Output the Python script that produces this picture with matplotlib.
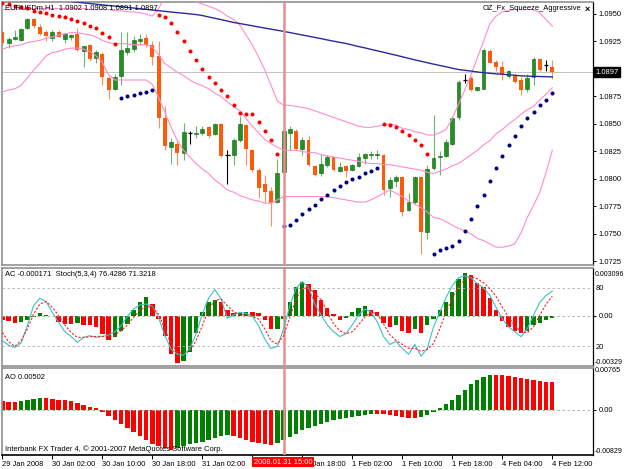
import matplotlib
matplotlib.use("Agg")
import matplotlib.pyplot as plt
import matplotlib.transforms as mtransforms
import numpy as np

plt.rcParams['font.family'] = ['Liberation Sans', 'DejaVu Sans']

# ---- data (EURUSDm, H1, 29 Jan 18:00 .. 4 Feb 12:00) ----
opens = [1.0934, 1.0924, 1.0927, 1.0926, 1.0937, 1.0945, 1.0938, 1.0934, 1.0928, 1.0934,
         1.0927, 1.0929, 1.0932, 1.0916, 1.0922, 1.0910, 1.0914, 1.0892, 1.0882, 1.0894,
         1.0915, 1.0918, 1.0925, 1.0928, 1.0922, 1.0912, 1.0855, 1.0829, 1.0832, 1.0824,
         1.0842, 1.0841, 1.0842, 1.0847, 1.0841, 1.0850, 1.0822, 1.0822, 1.0835, 1.0849,
         1.0826, 1.0808, 1.0795, 1.0789, 1.0779, 1.0806, 1.0842, 1.0844, 1.0827, 1.0835,
         1.0812, 1.0805, 1.0813, 1.0820, 1.0807, 1.0812, 1.0808, 1.0812, 1.0819, 1.0822,
         1.0822, 1.0822, 1.0792, 1.0798, 1.0802, 1.0772, 1.0779, 1.0802, 1.0752, 1.0810,
         1.0820, 1.0821, 1.0832, 1.0856, 1.0890, 1.0892, 1.0881, 1.0882, 1.0916, 1.0906,
         1.0902, 1.0894, 1.0894, 1.0890, 1.0882, 1.0893, 1.0909, 1.0904, 1.0902]
highs = [1.0935, 1.0929, 1.0935, 1.0937, 1.0946, 1.0946, 1.0941, 1.0935, 1.0935, 1.0935,
         1.0933, 1.0932, 1.0937, 1.0921, 1.0923, 1.0917, 1.0915, 1.0894, 1.0895, 1.0934,
         1.0934, 1.0930, 1.0932, 1.0932, 1.0925, 1.0925, 1.0866, 1.0837, 1.0835, 1.0851,
         1.0844, 1.0848, 1.0848, 1.0848, 1.0851, 1.0851, 1.0826, 1.0837, 1.0857, 1.0850,
         1.0827, 1.0810, 1.0804, 1.0793, 1.0818, 1.0846, 1.0848, 1.0845, 1.0838, 1.0839,
         1.0813, 1.0823, 1.0822, 1.0820, 1.0815, 1.0813, 1.0814, 1.0824, 1.0824, 1.0825,
         1.0826, 1.0823, 1.0802, 1.0804, 1.0803, 1.0787, 1.0803, 1.0803, 1.0813, 1.0858,
         1.0825, 1.0836, 1.0857, 1.0890, 1.0895, 1.0894, 1.0884, 1.0919, 1.0918, 1.0908,
         1.0907, 1.0899, 1.0895, 1.0893, 1.0895, 1.0911, 1.0910, 1.0908, 1.0908]
lows = [1.0922, 1.0919, 1.0926, 1.0925, 1.0936, 1.0937, 1.0931, 1.0925, 1.0925, 1.0929,
        1.0924, 1.0926, 1.0916, 1.0902, 1.0907, 1.0905, 1.0885, 1.0873, 1.0881, 1.0885,
        1.0913, 1.0915, 1.0922, 1.0920, 1.0904, 1.0846, 1.0826, 1.0814, 1.0813, 1.0817,
        1.0832, 1.0837, 1.0840, 1.0837, 1.0840, 1.0820, 1.0795, 1.0813, 1.0834, 1.0813,
        1.0806, 1.0783, 1.0779, 1.0757, 1.0778, 1.0805, 1.0826, 1.0826, 1.0822, 1.0812,
        1.0803, 1.0803, 1.0811, 1.0807, 1.0806, 1.0802, 1.0807, 1.0811, 1.0814, 1.0818,
        1.0818, 1.0785, 1.0784, 1.0793, 1.0766, 1.0771, 1.0777, 1.0732, 1.0745, 1.0808,
        1.0804, 1.0820, 1.0831, 1.0854, 1.0887, 1.0880, 1.0880, 1.0882, 1.0905, 1.0898,
        1.0890, 1.0892, 1.0887, 1.0876, 1.0879, 1.0885, 1.0898, 1.0898, 1.0891]
closes = [1.0924, 1.0927, 1.0929, 1.0936, 1.0945, 1.0939, 1.0932, 1.0930, 1.0934, 1.0929,
          1.0932, 1.0931, 1.0917, 1.0921, 1.0909, 1.0915, 1.0893, 1.0881, 1.0893, 1.0917,
          1.0919, 1.0926, 1.0927, 1.0922, 1.0911, 1.0855, 1.0830, 1.0834, 1.0824, 1.0843,
          1.0842, 1.0842, 1.0845, 1.0839, 1.0850, 1.0821, 1.0822, 1.0835, 1.0850, 1.0827,
          1.0808, 1.0792, 1.0788, 1.0778, 1.0805, 1.0844, 1.0845, 1.0827, 1.0835, 1.0813,
          1.0804, 1.0814, 1.0820, 1.0808, 1.0811, 1.0807, 1.0813, 1.0820, 1.0823, 1.0823,
          1.0823, 1.0790, 1.0799, 1.0802, 1.0770, 1.0779, 1.0802, 1.0752, 1.0809, 1.0819,
          1.0821, 1.0834, 1.0855, 1.0888, 1.0890, 1.0881, 1.0884, 1.0917, 1.0905, 1.0902,
          1.0895, 1.0898, 1.0888, 1.0881, 1.0892, 1.0909, 1.0899, 1.0904, 1.0897]

ma200 = [1.09678, 1.09672, 1.09666, 1.09660, 1.09654, 1.09648, 1.09642, 1.09637, 1.09631, 1.09625,
         1.09619, 1.09613, 1.09607, 1.09601, 1.09595, 1.09589, 1.09583, 1.09577, 1.09572, 1.09566,
         1.09560, 1.09554, 1.09548, 1.09542, 1.09536, 1.09530, 1.09524, 1.09518, 1.09512, 1.09507,
         1.09501, 1.09495, 1.09486, 1.09473, 1.09461, 1.09449, 1.09436, 1.09423, 1.09413, 1.09403,
         1.09393, 1.09382, 1.09372, 1.09362, 1.09352, 1.09342, 1.09331, 1.09320, 1.09309, 1.09298,
         1.09287, 1.09276, 1.09264, 1.09253, 1.09242, 1.09232, 1.09218, 1.09204, 1.09192, 1.09178,
         1.09165, 1.09152, 1.09138, 1.09125, 1.09111, 1.09097, 1.09083, 1.09070, 1.09057, 1.09044,
         1.09032, 1.09020, 1.09007, 1.08995, 1.08988, 1.08981, 1.08973, 1.08966, 1.08961, 1.08956,
         1.08952, 1.08947, 1.08943, 1.08938, 1.08935, 1.08933, 1.08932, 1.08930, 1.08928]

band_up = [1.0954, 1.0954, 1.0954, 1.0955, 1.0955, 1.0955, 1.0955, 1.0955, 1.0955, 1.0955,
           1.0955, 1.0955, 1.0955, 1.0955, 1.0954, 1.0954, 1.0954, 1.0954, 1.0953, 1.0953,
           1.0952, 1.0952, 1.0951, 1.0950, 1.0948, 1.0955, 1.0965, 1.0968, 1.0970, 1.0968,
           1.0965, 1.0961, 1.0959, 1.0957, 1.0955, 1.0952, 1.0948, 1.0945, 1.0940, 1.0931,
           1.0922, 1.0911, 1.0899, 1.0885, 1.0871, 1.0867, 1.0867, 1.0866, 1.0865, 1.0864,
           1.0862, 1.0860, 1.0858, 1.0856, 1.0854, 1.0852, 1.0850, 1.0848, 1.0847, 1.0847,
           1.0848, 1.0849, 1.0850, 1.0849, 1.0846, 1.0845, 1.0843, 1.0842, 1.0840, 1.0840,
           1.0842, 1.0845, 1.0855, 1.0868, 1.0881, 1.0895, 1.0910, 1.0925, 1.0941, 1.0948,
           1.0952, 1.0953, 1.0954, 1.0954, 1.0954, 1.0954, 1.0951, 1.0945, 1.0939]
band_mid = [1.0918, 1.0920, 1.0921, 1.0922, 1.0924, 1.0925, 1.0926, 1.0928, 1.0929, 1.0931,
            1.0932, 1.0933, 1.0933, 1.0932, 1.0931, 1.0929, 1.0926, 1.0924, 1.0923, 1.0923,
            1.0923, 1.0922, 1.0922, 1.0922, 1.0920, 1.0913, 1.0905, 1.0901, 1.0897, 1.0894,
            1.0890, 1.0887, 1.0885, 1.0882, 1.0878, 1.0875, 1.0870, 1.0866, 1.0862, 1.0855,
            1.0848, 1.0842, 1.0836, 1.0832, 1.0829, 1.0826, 1.0826, 1.0826, 1.0825, 1.0824,
            1.0824, 1.0822, 1.0821, 1.0820, 1.0819, 1.0818, 1.0817, 1.0816, 1.0815, 1.0814,
            1.0814, 1.0813, 1.0813, 1.0812, 1.0811, 1.0810, 1.0809, 1.0808, 1.0806, 1.0805,
            1.0807, 1.0809, 1.0812, 1.0814, 1.0818, 1.0822, 1.0826, 1.0831, 1.0835, 1.0841,
            1.0845, 1.0850, 1.0854, 1.0859, 1.0863, 1.0866, 1.0872, 1.0877, 1.0883]
band_low = [1.0879, 1.0881, 1.0882, 1.0885, 1.0892, 1.0899, 1.0905, 1.0912, 1.0915, 1.0916,
            1.0918, 1.0919, 1.0919, 1.0918, 1.0916, 1.0912, 1.0906, 1.0895, 1.0890, 1.0890,
            1.0890, 1.0890, 1.0890, 1.0890, 1.0886, 1.0874, 1.0861, 1.0847, 1.0835, 1.0826,
            1.0820, 1.0814, 1.0809, 1.0805, 1.0799, 1.0795, 1.0790, 1.0788, 1.0785, 1.0783,
            1.0781, 1.0780, 1.0778, 1.0778, 1.0781, 1.0784, 1.0784, 1.0784, 1.0784, 1.0784,
            1.0784, 1.0784, 1.0784, 1.0783, 1.0782, 1.0781, 1.0780, 1.0779, 1.0779, 1.0781,
            1.0784, 1.0787, 1.0790, 1.0787, 1.0784, 1.0780, 1.0777, 1.0774, 1.0770, 1.0765,
            1.0764, 1.0761, 1.0758, 1.0755, 1.0753, 1.0750, 1.0746, 1.0744, 1.0741, 1.0738,
            1.0738, 1.0739, 1.0741, 1.0751, 1.0765, 1.0776, 1.0788, 1.0806, 1.0826]

sar = [1.0960, 1.0959, 1.0957, 1.0956, 1.0955, 1.0953, 1.0952, 1.0951, 1.0949, 1.0948,
       1.0947, 1.0945, 1.0944, 1.0942, 1.0939, 1.0937, 1.0933, 1.0929, 1.0923, 1.0874,
       1.0875, 1.0876, 1.0878, 1.0879, 1.0881, 1.0949, 1.0947, 1.0942, 1.0934, 1.0925,
       1.0916, 1.0908, 1.0900, 1.0893, 1.0887, 1.0881, 1.0875, 1.0867, 1.0860, 1.0859,
       1.0859, 1.0852, 1.0844, 1.0835, 1.0823, 1.0757, 1.0758, 1.0763, 1.0768, 1.0773,
       1.0776, 1.0782, 1.0785, 1.0790, 1.0794, 1.0797, 1.0800, 1.0802, 1.0805, 1.0807,
       1.0810, 1.0850, 1.0849, 1.0847, 1.0844, 1.0840, 1.0835, 1.0831, 1.0823, 1.0732,
       1.0735, 1.0737, 1.0739, 1.0744, 1.0753, 1.0764, 1.0775, 1.0785, 1.0798, 1.0810,
       1.0821, 1.0831, 1.0839, 1.0848, 1.0855, 1.0861, 1.0867, 1.0872, 1.0878]

ac = [-0.00026, -0.00037, -0.00048, -0.00043, -0.00026, -0.00007, 0.00017, 0.00004, -0.00004, -0.00043,
      -0.00054, -0.00054, -0.00048, -0.00061, -0.00065, -0.00076, -0.00119, -0.00158, -0.00141, -0.00104,
      -0.00054, 0.00037, 0.00087, 0.00119, 0.00076, -0.00022, -0.00135, -0.00250, -0.00308, -0.00299,
      -0.00239, -0.00113, 0.00022, 0.00087, 0.00104, 0.00091, 0.00033, 0.00015, 0.00018, 0.00022,
      0.00020, 0.00015, -0.00026, -0.00091, -0.00087, -0.00022, 0.00087, 0.00184, 0.00221, 0.00206,
      0.00163, 0.00098, 0.00052, 0.00013, -0.00026, -0.00013, 0.00020, 0.00046, 0.00059, 0.00039,
      0.00020, -0.00052, -0.00078, -0.00065, -0.00104, -0.00117, -0.00091, -0.00117, -0.00065, -0.00020,
      0.00039, 0.00091, 0.00156, 0.00235, 0.00274, 0.00261, 0.00215, 0.00183, 0.00117, 0.00039,
      -0.00039, -0.00078, -0.00104, -0.00117, -0.00098, -0.00065, -0.00046, -0.00026, -0.000171]

stoch_main = [25.8, 21.3, 19.0, 23.4, 41.1, 61.6, 69.1, 65.7, 54.8, 44.5,
              35.0, 30.2, 24.1, 29.2, 30.9, 29.2, 30.2, 31.6, 35.0, 41.1,
              50.7, 58.2, 62.3, 63.3, 60.9, 49.7, 30.9, 17.3, 12.1, 11.1,
              17.9, 32.6, 53.1, 69.1, 78.0, 68.4, 48.6, 52.0, 54.8, 53.7,
              50.7, 41.1, 27.5, 17.9, 20.0, 37.7, 61.6, 79.3, 86.1, 80.3,
              63.3, 52, 42, 35, 30, 33, 42, 52, 58, 55,
              45, 30, 22, 25, 18, 12, 22, 10, 18, 40,
              55, 70, 82, 90, 92, 90, 84, 80, 72, 60,
              48, 40, 35, 30, 38, 52, 65, 72, 76.43]
stoch_signal = [34.3, 24.8, 20.0, 25.8, 37.7, 53.1, 63.3, 65.7, 59.9, 51.4,
                41.8, 34.3, 29.2, 29.2, 29.9, 30.2, 30.2, 29.5, 31.6, 36.0,
                41.8, 49.7, 56.5, 60.9, 59.9, 53.1, 37.7, 22.4, 14.5, 12.1,
                15.6, 25.8, 41.1, 58.2, 66.7, 68.4, 61.6, 55.4, 52.7, 52.0,
                50.7, 47.9, 37.7, 25.8, 22.4, 30.9, 49.7, 68.4, 78.6, 80.3,
                73.5, 68, 55, 43, 36, 33, 35, 42, 50, 55,
                53, 43, 32, 26, 22, 18, 18, 15, 17, 23,
                38, 55, 69, 81, 88, 91, 89, 85, 79, 71,
                60, 50, 41, 35, 34, 40, 52, 63, 71.32]

ao = [0.00165, 0.00147, 0.00147, 0.00165, 0.00183, 0.00202, 0.00220, 0.00220, 0.00202, 0.00183,
      0.00183, 0.00165, 0.00128, 0.00092, 0.00055, 0.00037, -0.00037, -0.00110, -0.00183, -0.00256,
      -0.00330, -0.00403, -0.00476, -0.00550, -0.00623, -0.00660, -0.00696, -0.00733, -0.00696, -0.00660,
      -0.00623, -0.00605, -0.00586, -0.00550, -0.00513, -0.00476, -0.00458, -0.00476, -0.00513, -0.00550,
      -0.00586, -0.00605, -0.00623, -0.00641, -0.00605, -0.00550, -0.00495, -0.00440, -0.00366, -0.00330,
      -0.00293, -0.00256, -0.00220, -0.00183, -0.00165, -0.00147, -0.00128, -0.00110, -0.00092, -0.00073,
      -0.00073, -0.00073, -0.00092, -0.00110, -0.00128, -0.00147, -0.00147, -0.00128, -0.00092, -0.00037,
      0.00037, 0.00110, 0.00183, 0.00275, 0.00366, 0.00476, 0.00550, 0.00605, 0.00641, 0.00641,
      0.00641, 0.00623, 0.00605, 0.00586, 0.00568, 0.00550, 0.00531, 0.00513, 0.00502]

time_labels = ['29 Jan 2008', '30 Jan 02:00', '30 Jan 10:00', '30 Jan 18:00', '31 Jan 02:00',
               '31 Jan 10:00', '31 Jan 18:00', '1 Feb 02:00', '1 Feb 10:00', '1 Feb 18:00',
               '4 Feb 04:00', '4 Feb 12:00']
price_ticks = [1.0725, 1.0750, 1.0775, 1.0800, 1.0825, 1.0850, 1.0875, 1.0925, 1.0950]
last_price = 1.0897
cursor_bar = 45

# ---- layout (pixel based, 625x469) ----
W, H = 625, 469
fig = plt.figure(figsize=(W / 100, H / 100), dpi=100)
fig.patch.set_facecolor('white')
FS = 5.4


def px_axes(top, bottom, left=1.7, right=593.3):
    return fig.add_axes([left / W, 1 - bottom / H, (right - left) / W, (bottom - top) / H])


def ptext(xp, yp, s, **kw):
    kw.setdefault('fontsize', FS)
    kw.setdefault('va', 'center')
    return fig.text(xp / W, 1 - yp / H, s, **kw)


ax = px_axes(2, 265)
ac_ax = px_axes(268, 366)
st_ax = px_axes(268, 366)
ao_ax = px_axes(368, 455)

x = np.arange(len(opens))
o, h, l, c = (np.array(v) for v in (opens, highs, lows, closes))
xlim = (-0.1, 94.56)

for a in (ax, ac_ax, st_ax, ao_ax):
    a.set_xlim(*xlim)
    for side in ('left', 'top', 'bottom'):
        a.spines[side].set_color('#909090')
        a.spines[side].set_linewidth(1.2)
    a.spines['right'].set_color('black')
    a.spines['right'].set_linewidth(0.9)
    a.tick_params(axis='x', which='both', length=0, labelbottom=False)
st_ax.patch.set_alpha(0)
st_ax.axis('off')

# ---- main price panel ----
ax.set_ylim(1.07218, 1.09609)
up, dn, fl = c > o, c < o, c == o
ax.vlines(x[up], l[up], h[up], color='#6db56d', lw=0.8, zorder=2)
ax.vlines(x[dn], l[dn], h[dn], color='#ff8c5a', lw=0.8, zorder=2)
ax.vlines(x[fl], l[fl], h[fl], color='black', lw=0.8, zorder=2)
ax.bar(x[up], c[up] - o[up], bottom=o[up], width=0.62, color='#239023',
       edgecolor='#106010', lw=0.4, zorder=3)
ax.bar(x[dn], o[dn] - c[dn], bottom=c[dn], width=0.62, color='#ff5a0a', lw=0, zorder=3)
ax.hlines(c[fl], x[fl] - 0.35, x[fl] + 0.35, color='black', lw=0.9, zorder=3)

for band in (band_up, band_mid, band_low):
    ax.plot(x, band, color='#ff8ccc', lw=0.8, zorder=4)
ax.plot(x, ma200, color='#2a2a9a', lw=1.0, zorder=4)

s = np.array(sar)
above = s > h
ax.plot(x[above], s[above], 'o', color='#ff0000', ms=2.9, mec='none', zorder=5)
ax.plot(x[~above], s[~above], 'o', color='#000080', ms=2.9, mec='none', zorder=5)

ax.axhline(last_price, color='#b8b8b8', lw=0.6, zorder=1)
ax.yaxis.tick_right()
ax.set_yticks(price_ticks)
ax.set_yticklabels(['%.4f' % p for p in price_ticks])
ax.tick_params(axis='y', length=2.5, width=0.7, pad=1.5, labelsize=FS)
ax.text(1.004, last_price, '%.4f' % last_price, transform=mtransforms.blended_transform_factory(
    ax.transAxes, ax.transData), color='white', fontsize=FS, va='center', ha='left',
    bbox=dict(facecolor='black', edgecolor='black', pad=1.0), zorder=10, clip_on=False)

# ---- AC + stochastic panel ----
acv = np.array(ac)
ac_up = np.r_[False, acv[1:] > acv[:-1]]
ac_ax.set_ylim(-0.00329, 0.003096)
ac_ax.bar(x, acv, width=0.7, color=np.where(ac_up, '#008000', '#ff0000'), lw=0)
ac_ax.axhline(0, color='#a8a8a8', lw=0.6, ls=(0, (3, 3)))
ac_ax.yaxis.tick_right()
ac_ax.set_yticks([0])
ac_ax.set_yticklabels(['0.00'])
ac_ax.tick_params(axis='y', length=2.5, width=0.7, pad=1.5, labelsize=FS)

st_ax.set_ylim(0, 100)
st_ax.set_xlim(*xlim)
st_ax.axhline(80, color='#b0b0b0', lw=0.6, ls=(0, (3, 3)))
st_ax.axhline(20, color='#b0b0b0', lw=0.6, ls=(0, (3, 3)))
st_ax.plot(x, stoch_main, color='#3cc0c8', lw=0.8)
st_ax.plot(x, stoch_signal, color='#ff2020', lw=0.8, ls=(0, (2, 1.5)))

# ---- AO panel ----
aov = np.array(ao)
ao_up = np.r_[False, aov[1:] > aov[:-1]]
ao_ax.set_ylim(-0.00829, 0.00765)
ao_ax.bar(x, aov, width=0.7, color=np.where(ao_up, '#008000', '#ff0000'), lw=0)
ao_ax.axhline(0, color='#a8a8a8', lw=0.6, ls=(0, (3, 3)))
ao_ax.yaxis.tick_right()
ao_ax.set_yticks([0])
ao_ax.set_yticklabels(['0.00'])
ao_ax.tick_params(axis='y', length=2.5, width=0.7, pad=1.5, labelsize=FS)
ao_ax.spines['bottom'].set_color('black')
ao_ax.set_xticks(np.arange(0, len(x), 8))
ao_ax.set_xticklabels(time_labels, ha='left')
ao_ax.tick_params(axis='x', length=3, width=0.7, pad=1.5, labelsize=FS, labelbottom=True)

for a in (ax, ac_ax, ao_ax):
    a.axvline(cursor_bar, color='#f08a8a', lw=1.8, zorder=6)

# ---- texts ----
ptext(5, 8, 'EURUSDm,H1  1.0902 1.0908 1.0891 1.0897', ha='left')
ptext(581, 9, 'OZ_Fx_Squeeze_Aggressive', ha='right')
ptext(585, 9, '×', ha='left', fontsize=6.5, fontweight='bold')
ptext(5, 275, 'AC -0.000171  Stoch(5,3,4) 76.4286 71.3218', ha='left')
ptext(5, 377, 'AO 0.00502', ha='left')
ptext(5, 449, 'Interbank FX Trader 4, © 2001-2007 MetaQuotes Software Corp.', ha='left')

ptext(595, 274, '0.003096', ha='left', fontsize=5.0)
ptext(596, 289, '80', ha='left')
ptext(596, 347, '20', ha='left')
ptext(595, 362, '-0.00329', ha='left', fontsize=5.0)
ptext(595, 370, '0.00765', ha='left', fontsize=5.2)
ptext(595, 451, '-0.00829', ha='left', fontsize=5.0)

ptext(254, 462, '2008.01.31 15:00', ha='left', color='white', zorder=20,
      bbox=dict(facecolor='#ff0000', edgecolor='none', pad=1.2))

fig.savefig('out.png', dpi=100, facecolor='white')
